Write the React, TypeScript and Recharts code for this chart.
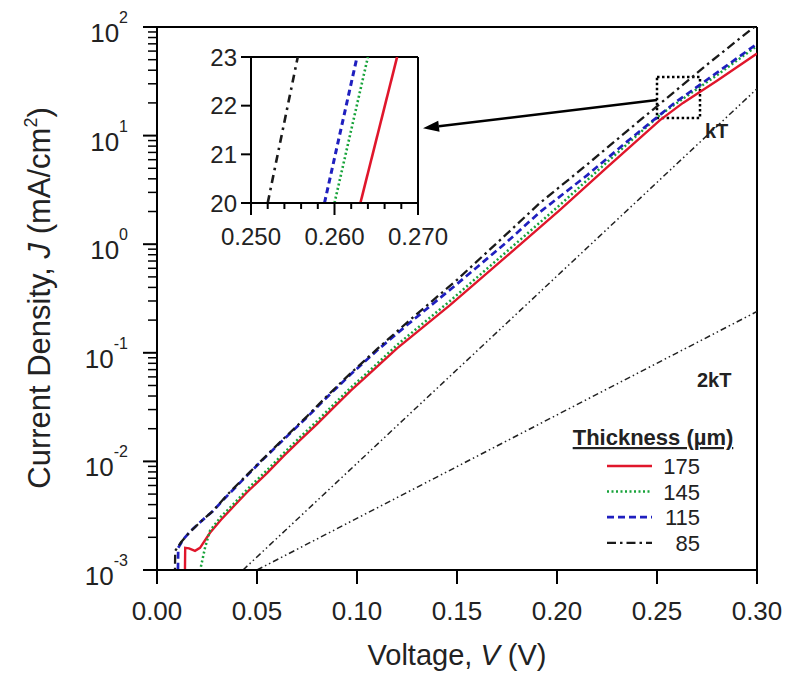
import React from 'react';
import { LineChart, Line, XAxis, YAxis, ReferenceLine, ReferenceArea } from 'recharts';

// Voltage (V) / current density (mA/cm2), one pair of arrays per thickness
const v175 = [0.0138, 0.0141, 0.016, 0.019, 0.0215, 0.0265, 0.032, 0.038, 0.045, 0.055, 0.0635, 0.0715, 0.08, 0.088, 0.097, 0.1065, 0.12, 0.1465, 0.175, 0.2015, 0.225, 0.2515, 0.263, 0.28, 0.3];
const j175 = [0.0005, 0.0016, 0.00158, 0.0015, 0.0016, 0.0022, 0.0029, 0.0038, 0.0052, 0.0078, 0.0113, 0.0157, 0.022, 0.031, 0.045, 0.065, 0.11, 0.275, 0.78, 2.07, 5.1, 13.9, 20, 32, 57];

const v145 = [0.0213, 0.0216, 0.024, 0.0265, 0.032, 0.038, 0.045, 0.055, 0.0635, 0.0715, 0.08, 0.088, 0.097, 0.1065, 0.12, 0.1465, 0.175, 0.2015, 0.225, 0.2515, 0.26, 0.28, 0.3];
const j145 = [0.0005, 0.001, 0.0016, 0.0023, 0.0031, 0.004, 0.0055, 0.0083, 0.012, 0.0167, 0.0235, 0.033, 0.048, 0.069, 0.118, 0.3, 0.86, 2.3, 5.7, 15.5, 20, 36, 67];

const v115 = [0.0103, 0.0106, 0.013, 0.017, 0.022, 0.028, 0.035, 0.043, 0.052, 0.063, 0.075, 0.085, 0.0965, 0.11, 0.125, 0.15, 0.175, 0.1915, 0.215, 0.235, 0.2588, 0.28, 0.3];
const j115 = [0.0005, 0.0016, 0.0019, 0.0023, 0.0028, 0.0035, 0.0048, 0.0068, 0.01, 0.0157, 0.0255, 0.039, 0.0625, 0.105, 0.18, 0.43, 1.05, 1.98, 4.3, 8.8, 20, 38, 70];

const v85 = [0.0088, 0.0091, 0.012, 0.016, 0.022, 0.028, 0.035, 0.043, 0.052, 0.063, 0.075, 0.085, 0.0965, 0.11, 0.125, 0.15, 0.175, 0.1915, 0.215, 0.235, 0.252, 0.275, 0.3];
const j85 = [0.0005, 0.0015, 0.0018, 0.0022, 0.0028, 0.0035, 0.0049, 0.0069, 0.0101, 0.016, 0.026, 0.04, 0.064, 0.108, 0.19, 0.47, 1.25, 2.4, 5.4, 11, 20, 45, 105];

// ideal diode reference lines (n = 1 and n = 2)
const vKT = [0.043, 0.3];
const jKT = [0.001, 27];
const v2KT = [0.05, 0.3];
const j2KT = [0.001, 0.24];

// zoomed inset, J from 20 to 23
const inV85 = [0.252, 0.2556];
const inV115 = [0.2588, 0.2627];
const inV145 = [0.26, 0.264];
const inV175 = [0.2631, 0.2675];
const inJ = [20, 23];

const xTicks = [0, 0.05, 0.1, 0.15, 0.2, 0.25, 0.3];
const yMajor = [0.001, 0.01, 0.1, 1, 10, 100];
const yTicks = [0.001, 0.002, 0.003, 0.004, 0.005, 0.006, 0.007, 0.008, 0.009,
  0.01, 0.02, 0.03, 0.04, 0.05, 0.06, 0.07, 0.08, 0.09,
  0.1, 0.2, 0.3, 0.4, 0.5, 0.6, 0.7, 0.8, 0.9,
  1, 2, 3, 4, 5, 6, 7, 8, 9,
  10, 20, 30, 40, 50, 60, 70, 80, 90, 100];
const insetXTicks = [0.25, 0.252, 0.254, 0.256, 0.258, 0.26, 0.262, 0.264, 0.266, 0.268, 0.27];
const insetXMajor = [0.25, 0.26, 0.27];
const insetYTicks = [20, 21, 22, 23];

const legendItems = ['175', '145', '115', '85'];

const zip = (vs: number[], js: number[]) => vs.map((v, i) => ({ v, j: js[i] }));

const FONT = '"Liberation Sans", Arial, Helvetica, sans-serif';

const styles: Record<string, { stroke: string; dash?: string; width: number }> = {
  '175': { stroke: '#e0162b', width: 2.4 },
  '145': { stroke: '#17a33a', dash: '2 2.5', width: 2.5 },
  '115': { stroke: '#1f1fbf', dash: '7 4', width: 2.7 },
  '85': { stroke: '#1a1a1a', dash: '9 4 2.5 4', width: 2.3 },
};

const near = (a: number, list: number[]) => list.some((m) => Math.abs(a - m) < 1e-9);

const MainYTick = (props: any) => {
  const { x, y, payload } = props;
  const val = payload.value;
  if (!near(val, yMajor)) {
    return <line x1={x - 9} x2={x} y1={y} y2={y} stroke="#000" strokeWidth={1.5} />;
  }
  const e = Math.round(Math.log10(val));
  return (
    <g>
      <line x1={x - 14} x2={x} y1={y} y2={y} stroke="#000" strokeWidth={2} />
      <text x={x - 29} y={y + 15} textAnchor="end" fontFamily={FONT} fontSize={26} fill="#222">
        <tspan>10</tspan>
        <tspan dy={-19} fontSize={16}>{e}</tspan>
      </text>
    </g>
  );
};

const MainXTick = (props: any) => {
  const { x, y, payload } = props;
  return (
    <g>
      <line x1={x} x2={x} y1={y} y2={y + 14} stroke="#000" strokeWidth={2} />
      <text x={x} y={y + 50} textAnchor="middle" fontFamily={FONT} fontSize={26} fill="#222">
        {payload.value.toFixed(2)}
      </text>
    </g>
  );
};

const InsetXTick = (props: any) => {
  const { x, y, payload } = props;
  const major = near(payload.value, insetXMajor);
  return (
    <g>
      <line x1={x} x2={x} y1={y} y2={y + (major ? 12 : 6)} stroke="#000" strokeWidth={2} />
      {major && (
        <text x={x} y={y + 42} textAnchor="middle" fontFamily={FONT} fontSize={24} fill="#222">
          {payload.value.toFixed(3)}
        </text>
      )}
    </g>
  );
};

const InsetYTick = (props: any) => {
  const { x, y, payload } = props;
  return (
    <g>
      <line x1={x - 10} x2={x} y1={y} y2={y} stroke="#000" strokeWidth={2} />
      <text x={x - 14} y={y + 8.5} textAnchor="end" fontFamily={FONT} fontSize={24} fill="#222">
        {payload.value}
      </text>
    </g>
  );
};

const Arrow = (props: any) => {
  const { x1, y1, x2, y2 } = props;
  const ang = Math.atan2(y2 - y1, x2 - x1);
  const len = 16;
  const hw = 5.5;
  const bx = x2 - len * Math.cos(ang);
  const by = y2 - len * Math.sin(ang);
  const px = -Math.sin(ang) * hw;
  const py = Math.cos(ang) * hw;
  return (
    <g>
      <line x1={x1} y1={y1} x2={bx} y2={by} stroke="#000" strokeWidth={2.5} />
      <polygon points={`${x2},${y2} ${bx + px},${by + py} ${bx - px},${by - py}`} fill="#000" />
    </g>
  );
};

const seriesLine = (key: string, data: { v: number; j: number }[]) => (
  <Line
    key={key}
    data={data}
    dataKey="j"
    type="linear"
    stroke={styles[key].stroke}
    strokeWidth={styles[key].width}
    strokeDasharray={styles[key].dash}
    dot={false}
    activeDot={false}
    isAnimationActive={false}
  />
);

export default function App() {
  return (
    <div style={{ position: 'absolute', left: 0, top: 0, width: 795, height: 677, background: '#fff' }}>
      <LineChart width={795} height={677} margin={{ top: 27, right: 38, bottom: 0, left: 0 }}>
        <XAxis
          dataKey="v"
          type="number"
          domain={[0, 0.3]}
          ticks={xTicks}
          interval={0}
          height={107}
          tickSize={0}
          tickMargin={0}
          tick={<MainXTick />}
          axisLine={{ stroke: '#000', strokeWidth: 2 }}
          allowDataOverflow
        />
        <YAxis
          dataKey="j"
          scale="log"
          domain={[0.001, 100]}
          ticks={yTicks}
          interval={0}
          width={157}
          tickSize={0}
          tickMargin={0}
          tick={<MainYTick />}
          axisLine={{ stroke: '#000', strokeWidth: 2 }}
          allowDataOverflow
        />
        <ReferenceLine y={100} stroke="#000" strokeWidth={2} />
        <ReferenceLine x={0.3} stroke="#000" strokeWidth={2} />
        <Line data={zip(vKT, jKT)} dataKey="j" stroke="#222" strokeWidth={1.5} strokeDasharray="6 3 1.5 3 1.5 3" dot={false} activeDot={false} isAnimationActive={false} />
        <Line data={zip(v2KT, j2KT)} dataKey="j" stroke="#222" strokeWidth={1.5} strokeDasharray="6 3 1.5 3 1.5 3" dot={false} activeDot={false} isAnimationActive={false} />
        {seriesLine('175', zip(v175, j175))}
        {seriesLine('145', zip(v145, j145))}
        {seriesLine('115', zip(v115, j115))}
        {seriesLine('85', zip(v85, j85))}
        <ReferenceArea x1={0.25} x2={0.2715} y1={14.5} y2={34.7} fill="none" stroke="#000" strokeWidth={2.5} strokeDasharray="2.5 2.5" />
        <ReferenceLine
          segment={[{ x: 0.25, y: 21.3 }, { x: 0.133, y: 11.7 }]}
          shape={<Arrow />}
        />
      </LineChart>

      <div style={{ position: 'absolute', left: 190, top: 40 }}>
        <LineChart width={270} height={250} margin={{ top: 17, right: 42, bottom: 0, left: 0 }}>
          <XAxis
            dataKey="v"
            type="number"
            domain={[0.25, 0.27]}
            ticks={insetXTicks}
            interval={0}
            height={87}
            tickSize={0}
            tickMargin={0}
            tick={<InsetXTick />}
            axisLine={{ stroke: '#000', strokeWidth: 2 }}
            allowDataOverflow
          />
          <YAxis
            dataKey="j"
            domain={[20, 23]}
            ticks={insetYTicks}
            interval={0}
            width={61}
            tickSize={0}
            tickMargin={0}
            tick={<InsetYTick />}
            axisLine={{ stroke: '#000', strokeWidth: 2 }}
            allowDataOverflow
          />
          <ReferenceLine y={23} stroke="#000" strokeWidth={2} />
          <ReferenceLine x={0.27} stroke="#000" strokeWidth={2} />
          <Line data={zip(inV85, inJ)} dataKey="j" stroke="#1a1a1a" strokeWidth={2.6} strokeDasharray="8 5 2.5 5" dot={false} activeDot={false} isAnimationActive={false} />
          <Line data={zip(inV115, inJ)} dataKey="j" stroke="#1f1fbf" strokeWidth={3} strokeDasharray="6 4" dot={false} activeDot={false} isAnimationActive={false} />
          <Line data={zip(inV145, inJ)} dataKey="j" stroke="#17a33a" strokeWidth={2.6} strokeDasharray="2 2.5" dot={false} activeDot={false} isAnimationActive={false} />
          <Line data={zip(inV175, inJ)} dataKey="j" stroke="#e0162b" strokeWidth={2.6} dot={false} activeDot={false} isAnimationActive={false} />
        </LineChart>
      </div>

      <svg width={795} height={677} style={{ position: 'absolute', left: 0, top: 0, pointerEvents: 'none' }}>
        <text x={457} y={665} textAnchor="middle" fontFamily={FONT} fontSize={29} fill="#222">
          Voltage, <tspan fontStyle="italic">V</tspan> (V)
        </text>
        <text transform="translate(50,298) rotate(-90)" textAnchor="middle" fontFamily={FONT} fontSize={31} fill="#222">
          Current Density, <tspan fontStyle="italic">J</tspan> (mA/cm<tspan dy={-13} fontSize={18}>2</tspan><tspan dy={13}>)</tspan>
        </text>
        <text x={705} y={138} fontFamily={FONT} fontSize={20} fontWeight="bold" fill="#222">kT</text>
        <text x={697} y={387} fontFamily={FONT} fontSize={20} fontWeight="bold" fill="#222">2kT</text>
        <text x={653} y={445} textAnchor="middle" fontFamily={FONT} fontSize={22} fontWeight="bold" textDecoration="underline" fill="#222">
          Thickness (µm)
        </text>
        {legendItems.map((k, i) => {
          const y = 466 + i * 25.6;
          return (
            <g key={k}>
              <line x1={607} x2={652} y1={y} y2={y} stroke={styles[k].stroke} strokeWidth={styles[k].width} strokeDasharray={styles[k].dash} />
              <text x={700} y={y + 8} textAnchor="end" fontFamily={FONT} fontSize={22} fill="#222">{k}</text>
            </g>
          );
        })}
      </svg>
    </div>
  );
}
